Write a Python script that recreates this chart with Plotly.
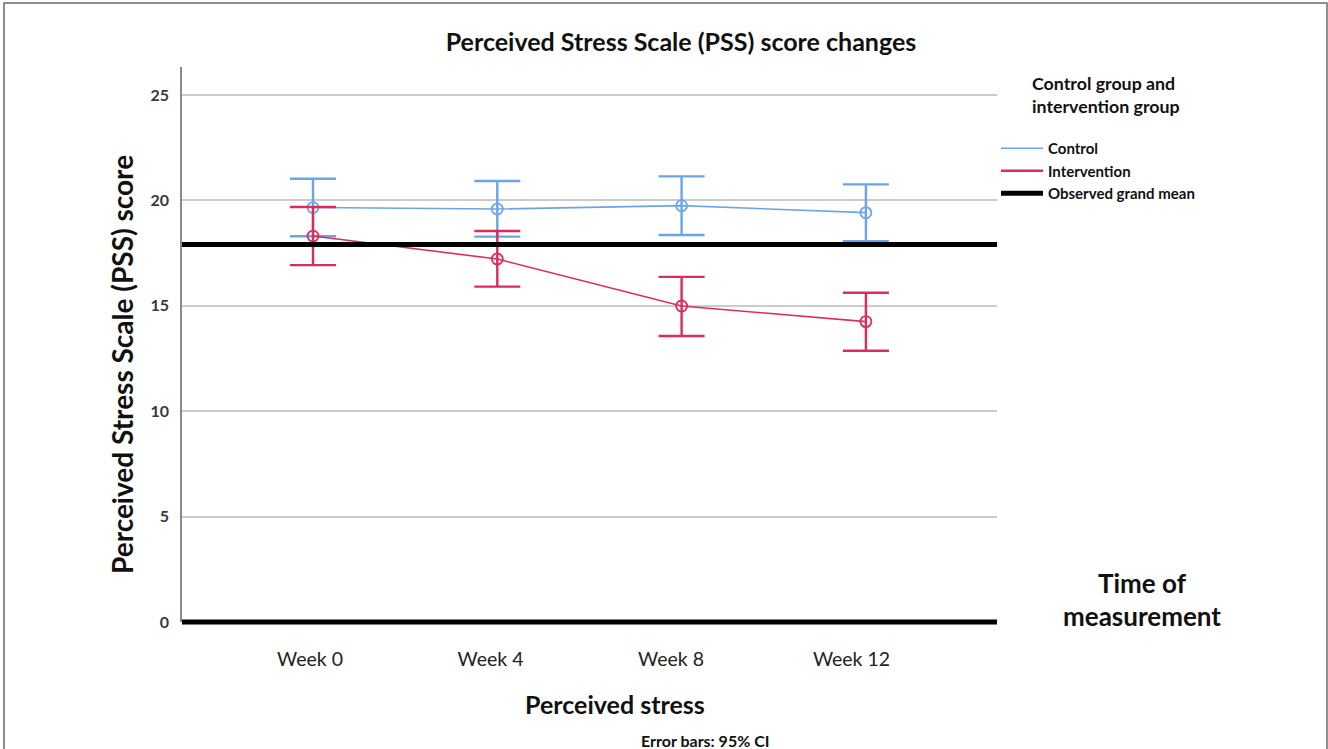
import plotly.graph_objects as go

# ---------------- data ----------------
weeks = ["Week 0", "Week 4", "Week 8", "Week 12"]
control_mean = [19.66, 19.59, 19.75, 19.42]
control_upper = [21.03, 20.92, 21.14, 20.76]
control_lower = [18.30, 18.28, 18.36, 18.07]
interv_mean = [18.31, 17.22, 14.99, 14.25]
interv_upper = [19.69, 18.55, 16.37, 15.62]
interv_lower = [16.93, 15.91, 13.57, 12.87]
grand_mean = 17.91
y_ticks = [0, 5, 10, 15, 20, 25]

# ---------------- layout geometry (pixels) ----------------
W, H = 1328, 749
PL, PR, PT, PB = 182, 997, 67, 622
FONT = "Lato"
C_CTRL = "#6aa5e8"
C_INT = "#dc2c5b"


def px_x(px):
    return (px - PL) / (PR - PL)


def px_y(py):
    return (PB - py) / (PB - PT)


fig = go.Figure()


def add_series(mean, up, lo, color):
    fig.add_trace(go.Scatter(
        x=weeks, y=mean, mode="lines+markers",
        line=dict(color=color, width=1.6),
        marker=dict(symbol="circle-open", size=11, color=color,
                    line=dict(width=1.8, color=color)),
        error_y=dict(type="data", symmetric=False,
                     array=[u - m for u, m in zip(up, mean)],
                     arrayminus=[m - l for m, l in zip(mean, lo)],
                     width=23, thickness=2.4, color=color),
        showlegend=False, hoverinfo="skip",
    ))


add_series(control_mean, control_upper, control_lower, C_CTRL)
add_series(interv_mean, interv_upper, interv_lower, C_INT)

# legend-only entries
fig.add_trace(go.Scatter(x=[None], y=[None], mode="lines", name="Control",
                         line=dict(color=C_CTRL, width=1.6)))
fig.add_trace(go.Scatter(x=[None], y=[None], mode="lines", name="Intervention",
                         line=dict(color=C_INT, width=2.4)))
fig.add_trace(go.Scatter(x=[None], y=[None], mode="lines", name="Observed grand mean",
                         line=dict(color="black", width=5)))

# invisible trace for the tick-label axis
fig.add_trace(go.Scatter(x=weeks, y=[None] * len(weeks), xaxis="x2",
                         showlegend=False, hoverinfo="skip", mode="markers"))

# grand mean line and zero (baseline) line
fig.add_shape(type="line", xref="x domain", x0=0, x1=1, yref="y",
              y0=grand_mean, y1=grand_mean, line=dict(color="black", width=5))
fig.add_shape(type="line", xref="paper", x0=0, x1=1, yref="paper",
              y0=0, y1=0, line=dict(color="black", width=5))
# outer frame
fig.add_shape(type="rect", xref="paper", yref="paper",
              x0=px_x(4), x1=px_x(1327), y0=px_y(770), y1=px_y(3),
              line=dict(color="#6b6b6b", width=1.5), fillcolor="rgba(0,0,0,0)",
              layer="below")

bar_step = 184.3
lab_step = 180.5
fig.update_layout(
    width=W, height=H,
    margin=dict(l=PL, r=W - PR, t=PT, b=H - PB, pad=0),
    paper_bgcolor="white", plot_bgcolor="white",
    font=dict(family=FONT, color="#111"),
    title=dict(text="Perceived Stress Scale (PSS) score changes",
               x=681 / W, xanchor="center", xref="container",
               y=1 - 42 / H, yanchor="middle", yref="container",
               font=dict(size=25, weight="bold", color="#111", family=FONT)),
    xaxis=dict(type="category", categoryorder="array", categoryarray=weeks,
               range=[(PL - 313) / bar_step, (PR - 313) / bar_step],
               showticklabels=False, showgrid=False, zeroline=False,
               showline=False, ticks=""),
    xaxis2=dict(type="category", categoryorder="array", categoryarray=weeks,
                overlaying="x", side="bottom", anchor="y",
                range=[(PL - 310) / lab_step, (PR - 310) / lab_step],
                showgrid=False, zeroline=False, showline=False, ticks="",
                tickfont=dict(size=19.5, color="#222", family=FONT),
                ticklabelstandoff=23),
    yaxis=dict(range=[0, (PB - PT) / 21.08], tickvals=y_ticks,
               showgrid=True, gridcolor="#cbcbcb", gridwidth=1.5,
               zeroline=False, showline=True, linecolor="#8a8a8a", linewidth=1.5,
               ticks="", ticklabelstandoff=8,
               tickfont=dict(size=16, weight="bold", color="#383838", family=FONT)),
    legend=dict(x=px_x(996), xanchor="left", y=px_y(132), yanchor="top",
                font=dict(size=15, weight="bold", color="#111", family=FONT),
                bgcolor="rgba(0,0,0,0)", itemwidth=42, tracegroupgap=0),
    showlegend=True,
)

annots = [
    dict(text="Perceived Stress Scale (PSS) score", x=px_x(122), y=px_y(365),
         textangle=-90, font=dict(size=28, weight="bold")),
    dict(text="Perceived stress", x=px_x(615), y=px_y(704), font=dict(size=25, weight="bold")),
    dict(text="Error bars: 95% CI", x=px_x(705), y=px_y(740), font=dict(size=16, weight="bold")),
    dict(text="Time of", x=px_x(1142), y=px_y(583), font=dict(size=26, weight="bold")),
    dict(text="measurement", x=px_x(1142), y=px_y(616), font=dict(size=26, weight="bold")),
    dict(text="Control group and", x=px_x(1030), y=px_y(83), xanchor="left",
         font=dict(size=17.8, weight="bold")),
    dict(text="intervention group", x=px_x(1030), y=px_y(106), xanchor="left",
         font=dict(size=17.8, weight="bold")),
]
for a in annots:
    a.setdefault("xanchor", "center")
    a.update(xref="paper", yref="paper", yanchor="middle", showarrow=False)
    a["font"].setdefault("family", FONT)
    a["font"].setdefault("color", "#111")
    fig.add_annotation(**a)

fig.write_html("out.html", config={"displayModeBar": False},
               post_script="document.body.style.margin='0';")
